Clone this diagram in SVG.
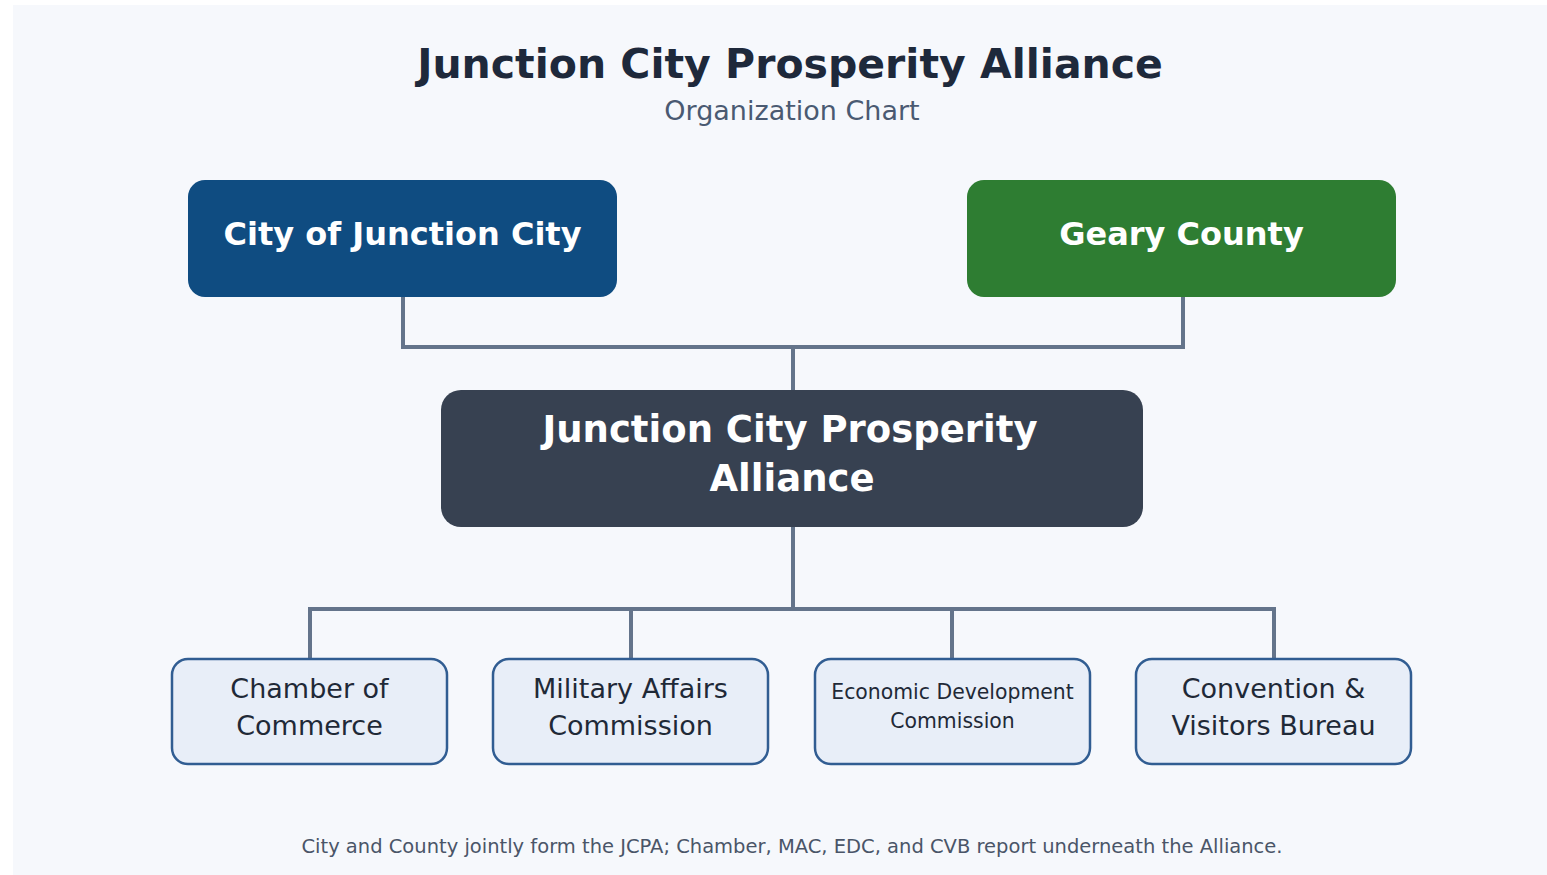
<svg xmlns="http://www.w3.org/2000/svg" width="1547" height="875" viewBox="0 0 1547 875">
<style>
text{font-family:"DejaVu Sans","Liberation Sans",sans-serif;text-anchor:middle}
.t{font-size:41px;font-weight:bold;fill:#1e293b}
.st{font-size:27px;fill:#4a5a72}
.top{font-size:32px;font-weight:bold;fill:#ffffff}
.mid{font-size:37px;font-weight:bold;fill:#ffffff}
.sub{fill:#e8eef8;stroke:#315d92;stroke-width:2.5}
.sl{font-size:27px;fill:#1f2937}
.ss{font-size:20.4px;fill:#1f2937}
.ft{font-size:19.5px;fill:#4a5568}
.c{fill:none;stroke:#64748b;stroke-width:4}
</style>
<rect x="0" y="0" width="1547" height="875" fill="#ffffff"/>
<rect x="13" y="5" width="1534" height="870" fill="#f6f8fc"/>
<text class="t" x="790" y="78">Junction City Prosperity Alliance</text>
<text class="st" x="792" y="120">Organization Chart</text>
<g id="connectors">
<path class="c" d="M403 297V347H1183V297"/>
<path class="c" d="M793 347V390"/>
<path class="c" d="M793 527V609"/>
<path class="c" d="M310 659V609H1274V659"/>
<path class="c" d="M631 609V659"/>
<path class="c" d="M952 609V659"/>
</g>
<g id="city">
<rect x="188" y="180" width="429" height="117" rx="17" fill="#0f4c81"/>
<text class="top" x="402.5" y="245">City of Junction City</text>
</g>
<g id="geary">
<rect x="967" y="180" width="429" height="117" rx="17" fill="#2e7d32"/>
<text class="top" x="1181.5" y="245">Geary County</text>
</g>
<g id="jcpa">
<rect x="441" y="390" width="702" height="137" rx="20" fill="#374151"/>
<text class="mid" x="790" y="442">Junction City Prosperity</text>
<text class="mid" x="792" y="491">Alliance</text>
</g>
<g id="chamber">
<rect class="sub" x="172" y="659" width="275" height="105" rx="16"/>
<text class="sl" x="309.5" y="698">Chamber of</text>
<text class="sl" x="309.5" y="735">Commerce</text>
</g>
<g id="mac">
<rect class="sub" x="493" y="659" width="275" height="105" rx="16"/>
<text class="sl" x="630.5" y="698">Military Affairs</text>
<text class="sl" x="630.5" y="735">Commission</text>
</g>
<g id="edc">
<rect class="sub" x="815" y="659" width="275" height="105" rx="16"/>
<text class="ss" x="952.5" y="699">Economic Development</text>
<text class="ss" x="952.5" y="728">Commission</text>
</g>
<g id="cvb">
<rect class="sub" x="1136" y="659" width="275" height="105" rx="16"/>
<text class="sl" x="1273.5" y="698">Convention &amp;</text>
<text class="sl" x="1273.5" y="735">Visitors Bureau</text>
</g>
<text class="ft" x="792" y="853">City and County jointly form the JCPA; Chamber, MAC, EDC, and CVB report underneath the Alliance.</text>
</svg>
